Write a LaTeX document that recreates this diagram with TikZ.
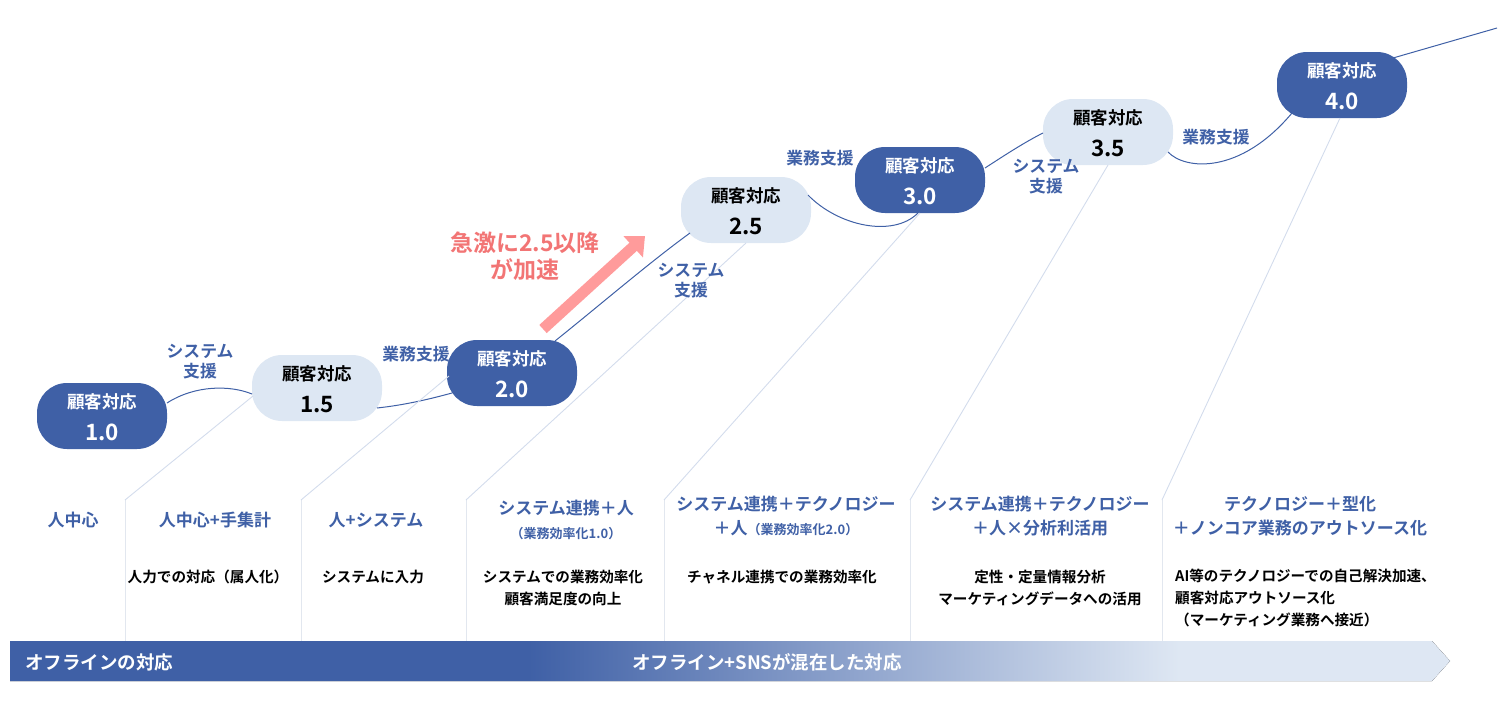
\documentclass[tikz,border=0pt]{standalone}
\usepackage{fontspec}
\setmainfont{Noto Sans CJK JP}[BoldFont={* Bold}]
\usetikzlibrary{arrows.meta,calc}
\definecolor{dk}{HTML}{3F60A6}
\definecolor{lt}{HTML}{DEE7F3}
\definecolor{ltnode}{HTML}{DDE7F3}
\definecolor{diag}{HTML}{D3DCEC}
\definecolor{sep}{HTML}{E2E7EF}
\definecolor{redtxt}{HTML}{F27575}
\definecolor{redarr}{HTML}{FF9B9B}
\pgfdeclarehorizontalshading{band}{100bp}{color(0bp)=(dk); color(43bp)=(dk); color(65.6bp)=(lt); color(100bp)=(lt)}
\newcommand\myfs[1]{\fontsize{#1}{#1}\selectfont}
\tikzset{
  stagedark/.style={rectangle, rounded corners=30pt, minimum width=130pt, minimum height=66pt, inner sep=0pt, fill=dk},
  stagelight/.style={rectangle, rounded corners=30pt, minimum width=130pt, minimum height=66pt, inner sep=0pt, fill=ltnode},
  ttl/.style={anchor=base, font=\bfseries\myfs{17.5}, inner sep=0pt},
  num/.style={anchor=base, font=\bfseries\myfs{22.5}, inner sep=0pt},
  conn/.style={draw=dk, line width=1pt},
  supp/.style={text=dk, font=\bfseries\fontsize{16.8}{20}\selectfont, align=center, inner sep=0pt},
  diagline/.style={draw=diag, line width=0.9pt},
  sepline/.style={draw=sep, line width=0.9pt},
  colhead/.style={text=dk, font=\bfseries\fontsize{17}{24}\selectfont, align=center, inner sep=0pt},
  desc/.style={text=black, font=\bfseries\fontsize{14.6}{22}\selectfont, align=center, inner sep=0pt},
  bandtext/.style={text=white, font=\bfseries\myfs{18.5}, inner sep=0pt},
}
\begin{document}
\begin{tikzpicture}[x=1pt, y=-1pt]
\useasboundingbox (0,0) rectangle (1510,715);

% bottom band
\fill[shading=band] (10,641) -- (1432,641) -- (1450,661) -- (1432,681) -- (10,681) -- cycle;
\node[bandtext, anchor=west] (bt1) at (25,662) {オフラインの対応};
\node[bandtext] (bt2) at (767,662) {オフライン+SNSが混在した対応};

% stage nodes
\node[stagedark]  (n10) at (102,416) {};
\node[stagelight] (n15) at (317,388) {};
\node[stagedark]  (n20) at (512,373) {};
\node[stagelight] (n25) at (746,210) {};
\node[stagedark]  (n30) at (920,180) {};
\node[stagelight] (n35) at (1108,132) {};
\node[stagedark]  (n40) at (1342,85) {};

\node[ttl, text=white] (t10) at ($(n10.center)+(0,-8)$) {顧客対応};
\node[num, text=white] (v10) at ($(n10.center)+(0,24)$) {1.0};
\node[ttl, text=black] (t15) at ($(n15.center)+(0,-8)$) {顧客対応};
\node[num, text=black] (v15) at ($(n15.center)+(0,24)$) {1.5};
\node[ttl, text=white] (t20) at ($(n20.center)+(0,-8)$) {顧客対応};
\node[num, text=white] (v20) at ($(n20.center)+(0,24)$) {2.0};
\node[ttl, text=black] (t25) at ($(n25.center)+(0,-8)$) {顧客対応};
\node[num, text=black] (v25) at ($(n25.center)+(0,24)$) {2.5};
\node[ttl, text=white] (t30) at ($(n30.center)+(0,-8)$) {顧客対応};
\node[num, text=white] (v30) at ($(n30.center)+(0,24)$) {3.0};
\node[ttl, text=black] (t35) at ($(n35.center)+(0,-8)$) {顧客対応};
\node[num, text=black] (v35) at ($(n35.center)+(0,24)$) {3.5};
\node[ttl, text=white] (t40) at ($(n40.center)+(0,-8)$) {顧客対応};
\node[num, text=white] (v40) at ($(n40.center)+(0,24)$) {4.0};

% connectors between stages
\draw[conn] ($(n10.center)+(65,-13)$) .. controls (195,385) and (230,385) .. ($(n15.center)+(-65,6)$);
\draw[conn] ($(n15.center)+(60,20)$) .. controls (405,405) and (430,399) .. ($(n20.center)+(-60,20)$);
\draw[conn] ($(n20.center)+(43,-32)$) .. controls (600,305) and (650,262) .. ($(n25.center)+(-56,23)$);
\draw[conn] ($(n25.center)+(62,-15)$) .. controls (838,226) and (893,238) .. ($(n30.center)+(-2,33)$);
\draw[conn] ($(n30.center)+(65,-12)$) .. controls (1005,155) and (1025,142) .. ($(n35.center)+(-65,1)$);
\draw[conn] ($(n35.center)+(60,20)$) .. controls (1185,170) and (1240,175) .. ($(n40.center)+(-50,28)$);
\coordinate (c7end) at (1497,28);
\draw[conn] ($(n40.center)+(51,-27)$) -- (c7end);

% column separators and diagonals
\coordinate (s1) at (125,500); \coordinate (s1b) at (125,641);
\coordinate (s2) at (301,500); \coordinate (s2b) at (301,641);
\coordinate (s3) at (466,500); \coordinate (s3b) at (466,641);
\coordinate (s4) at (664,500); \coordinate (s4b) at (664,641);
\coordinate (s5) at (910,500); \coordinate (s5b) at (910,641);
\coordinate (s6) at (1162,500); \coordinate (s6b) at (1162,641);
\foreach \s in {s1,s2,s3,s4,s5,s6} \draw[sepline] (\s) -- (\s b);
\draw[diagline] (s1) -- ($(n15.center)+(-64,8)$);
\draw[diagline] (s2) -- ($(n20.center)+(-63,3)$);
\draw[diagline] (s3) -- ($(n25.center)+(0,33)$);
\draw[diagline] (s4) -- ($(n30.center)+(0,33)$);
\draw[diagline] (s5) -- ($(n35.center)+(0,33)$);
\draw[diagline] (s6) -- ($(n40.center)+(-2,33)$);

% support labels
\node[supp] (l1) at (200,362) {システム\\支援};
\node[supp] (l2) at (416,354) {業務支援};
\node[supp] (l3) at (691,281) {システム\\支援};
\node[supp] (l4) at (820,158) {業務支援};
\node[supp] (l5) at (1046,177) {システム\\支援};
\node[supp] (l6) at (1216,137) {業務支援};

% red arrow and text
\coordinate (arrtail) at (543,329);
\coordinate (arrtip) at (645,236);
\draw[draw=redarr, line width=11pt, -{Triangle[length=16pt,width=28pt]}] (arrtail) -- (arrtip);
\node[text=redtxt, font=\bfseries\fontsize{23}{27}\selectfont, align=center, inner sep=0pt] (redlbl) at (525,256) {急激に2.5以降\\が加速};

% column headings
\node[colhead] (h1) at (73,520) {人中心};
\node[colhead] (h2) at (215,520) {人中心+手集計};
\node[colhead] (h3) at (376,520) {人+システム};
\node[colhead] (h4) at (566,520) {システム連携＋人\\{\fontsize{13}{13}\selectfont （業務効率化1.0）}};
\node[colhead] (h5) at (786,516) {システム連携＋テクノロジー\\＋人{\fontsize{13}{13}\selectfont （業務効率化2.0）}};
\node[colhead] (h6) at (1040,516) {システム連携＋テクノロジー\\＋人×分析利活用};
\node[colhead] (h7) at (1300,516) {テクノロジー＋型化\\＋ノンコア業務のアウトソース化};

% descriptions
\node[desc] (d2) at (208,577) {人力での対応（属人化）};
\node[desc] (d3) at (373,577) {システムに入力};
\node[desc] (d4) at (563,588) {システムでの業務効率化\\顧客満足度の向上};
\node[desc] (d5) at (782,577) {チャネル連携での業務効率化};
\node[desc] (d6) at (1040,588) {定性・定量情報分析\\マーケティングデータへの活用};
\node[desc, align=left, anchor=west] (d7) at (1175,598) {AI等のテクノロジーでの自己解決加速、\\顧客対応アウトソース化\\（マーケティング業務へ接近）};
\end{tikzpicture}
\end{document}
